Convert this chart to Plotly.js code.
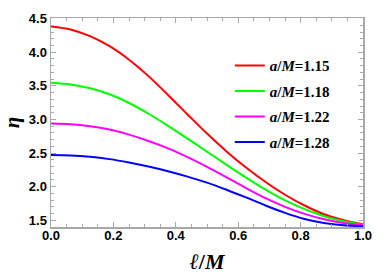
<!DOCTYPE html>
<html>
<head>
<meta charset="utf-8">
<script src="https://cdn.plot.ly/plotly-3.0.1.min.js"></script>
<style>html,body{margin:0;padding:0;background:#fff;}#chart{width:382px;height:274px;}</style>
</head>
<body>
<div id="chart"></div>
<script>
var xVals = [0, 0.0625, 0.125, 0.1875, 0.25, 0.3125, 0.375, 0.4375, 0.5, 0.5625, 0.625, 0.6875, 0.75, 0.8125, 0.875, 0.9375, 1.0];
var eta115 = [4.385, 4.34, 4.24, 4.09, 3.89, 3.645, 3.365, 3.075, 2.79, 2.525, 2.285, 2.07, 1.88, 1.72, 1.59, 1.50, 1.44];
var eta118 = [3.545, 3.52, 3.465, 3.375, 3.245, 3.085, 2.905, 2.715, 2.52, 2.325, 2.135, 1.955, 1.795, 1.665, 1.56, 1.485, 1.43];
var eta122 = [2.94, 2.93, 2.90, 2.85, 2.775, 2.68, 2.57, 2.44, 2.295, 2.14, 1.98, 1.83, 1.70, 1.595, 1.515, 1.46, 1.425];
var eta128 = [2.47, 2.465, 2.445, 2.41, 2.36, 2.30, 2.23, 2.15, 2.06, 1.955, 1.84, 1.72, 1.61, 1.52, 1.46, 1.425, 1.41];
var seriesNames = ['<i>a</i>/<i>M</i>=1.15', '<i>a</i>/<i>M</i>=1.18', '<i>a</i>/<i>M</i>=1.22', '<i>a</i>/<i>M</i>=1.28'];
var seriesColors = ['#ff0000', '#00ff00', '#ff00ff', '#0000ff'];
var seriesData = [eta115, eta118, eta122, eta128];

var traces = seriesData.map(function (ys, i) {
  return {
    x: xVals, y: ys, type: 'scatter', mode: 'lines',
    name: seriesNames[i], legendgroup: 'g' + i,
    line: {color: seriesColors[i], width: 2, shape: 'spline', smoothing: 0.8}
  };
});

var frameColor = '#a8a8a8';
var tickFont = {family: 'Liberation Sans, Arial, sans-serif', size: 13, color: '#000', weight: 'bold'};

var layout = {
  width: 382, height: 274,
  margin: {l: 51, r: 19, t: 18, b: 47},
  paper_bgcolor: '#fff', plot_bgcolor: '#fff',
  showlegend: true,
  legend: {
    x: 0.573, y: 0.85, xanchor: 'left', yanchor: 'top',
    bgcolor: 'rgba(255,255,255,0)', borderwidth: 0,
    traceorder: 'grouped', tracegroupgap: 3,
    font: {family: 'Liberation Serif, Times New Roman, serif', size: 15, color: '#000', weight: 'bold'}
  },
  xaxis: {
    range: [0, 1], dtick: 0.2, tick0: 0, tickformat: '.1f',
    ticks: 'inside', ticklen: 5, tickcolor: frameColor, tickwidth: 1,
    showline: true, linecolor: frameColor, linewidth: 1.5, mirror: 'ticks',
    showgrid: false, zeroline: false,
    tickfont: tickFont, ticklabelstandoff: -4,
    minor: {dtick: 0.05, ticks: 'inside', ticklen: 3, tickcolor: frameColor, showgrid: false},
    title: {text: '<b><i>ℓ</i>/<i>M</i></b>', font: {family: 'Liberation Serif, DejaVu Serif, serif', size: 22, color: '#000'}, standoff: 14}
  },
  yaxis: {
    range: [1.4, 4.51], dtick: 0.5, tick0: 0, tickformat: '.1f',
    ticks: 'inside', ticklen: 5, tickcolor: frameColor, tickwidth: 1,
    showline: true, linecolor: frameColor, linewidth: 1.5, mirror: 'ticks',
    showgrid: false, zeroline: false,
    tickfont: tickFont,
    minor: {dtick: 0.1, ticks: 'inside', ticklen: 3, tickcolor: frameColor, showgrid: false},
    title: {text: '<b><i>η</i></b>', font: {family: 'Liberation Serif, DejaVu Serif, serif', size: 21, color: '#000'}, standoff: 3}
  }
};

Plotly.newPlot('chart', traces, layout, {displayModeBar: false, staticPlot: true});
</script>
</body>
</html>
